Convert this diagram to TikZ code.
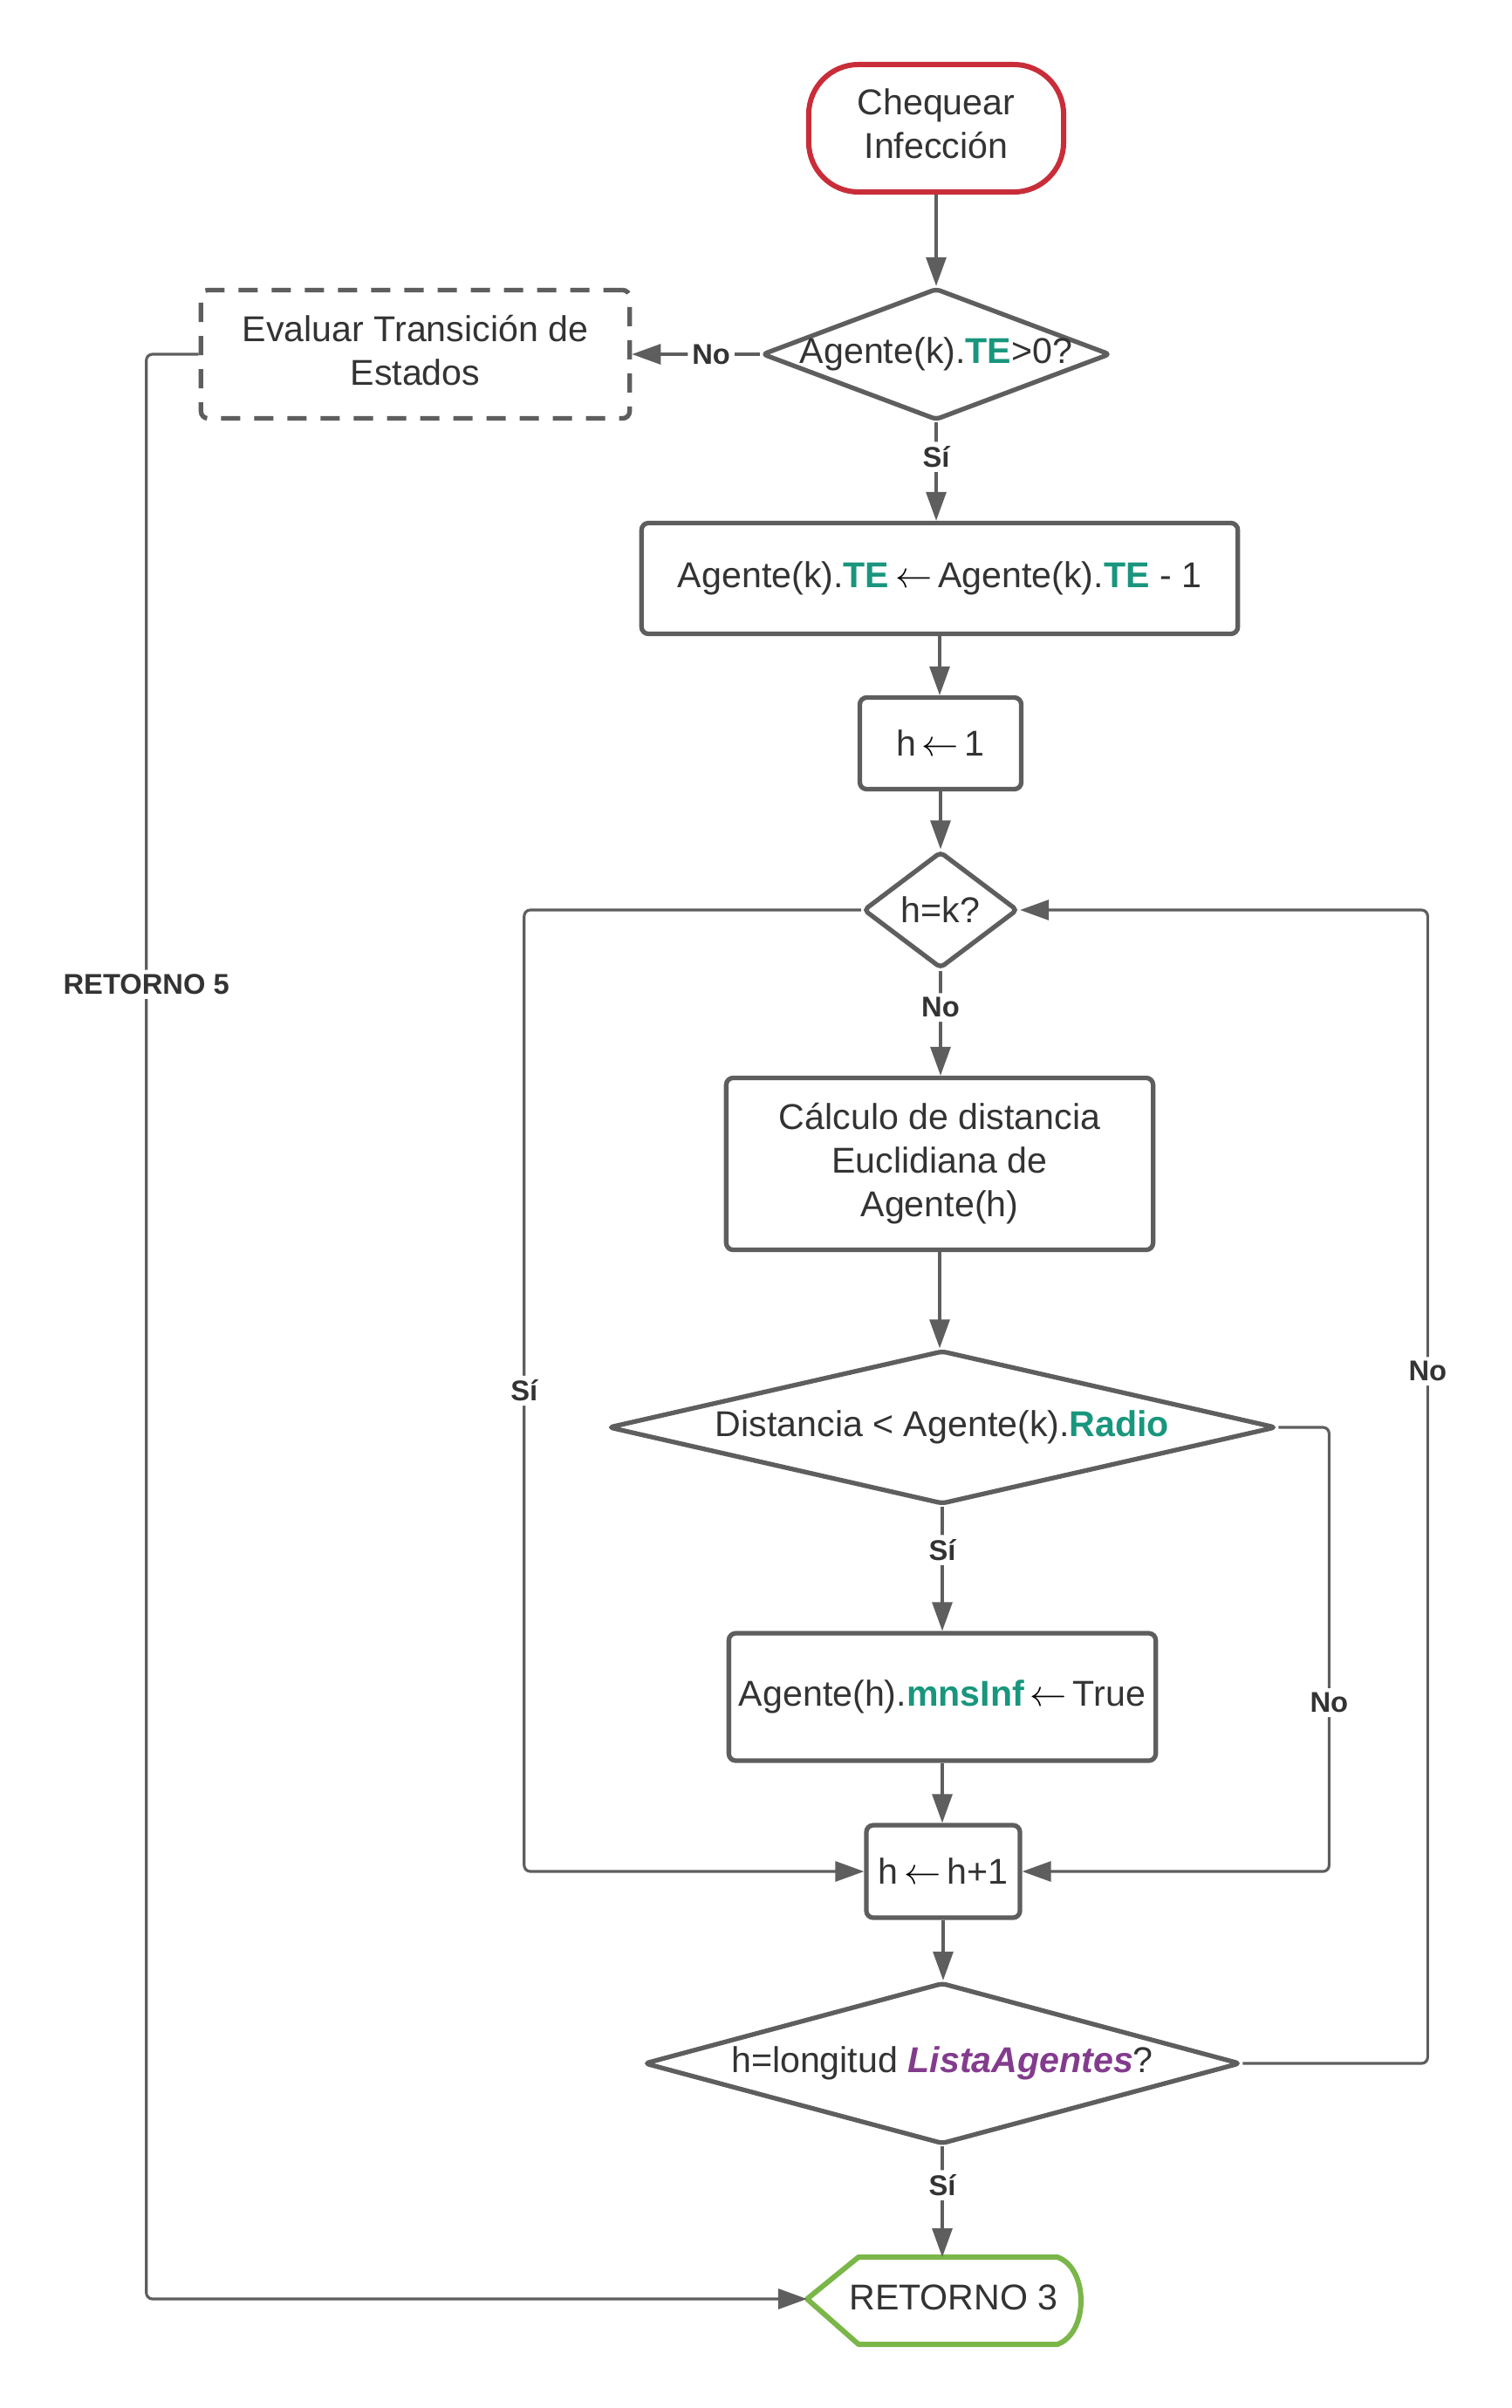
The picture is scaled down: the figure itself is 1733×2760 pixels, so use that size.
\documentclass[tikz,border=0pt]{standalone}
\usepackage{fontspec}
\setmainfont{Liberation Sans}
\usetikzlibrary{shapes.geometric,arrows.meta}
\definecolor{linegray}{HTML}{5E5E5E}
\definecolor{textgray}{HTML}{333333}
\definecolor{startred}{HTML}{C92D39}
\definecolor{endgreen}{HTML}{7AB648}
\definecolor{attrgreen}{HTML}{19967D}
\definecolor{listpurple}{HTML}{833C8D}
\newcommand{\attr}[1]{\textcolor{attrgreen}{\textbf{#1}}}
\newcommand{\asig}{\,\textcolor{black}{$\leftarrow$}\,}

\begin{document}
\begin{tikzpicture}[x=0.01cm,y=-0.01cm]
		\tikzstyle{every node}=[font=\fontsize{11.7pt}{14.2pt}\selectfont, text=textgray]
		\tikzstyle{proceso}=[draw=linegray, line width=1.5pt, rounded corners=0.08cm, align=center, inner sep=0pt]
		\tikzstyle{decision}=[draw=linegray, line width=1.5pt, diamond, rounded corners=0.05cm, inner sep=0pt]
		\tikzstyle{flecha}=[draw=linegray, line width=0.9pt, -{Triangle[length=0.33cm,width=0.23cm]}, rounded corners=0.07cm]
		\tikzstyle{etiqueta}=[font=\fontsize{9.3pt}{11pt}\selectfont\bfseries, fill=white, inner sep=0.05cm]
		
		\useasboundingbox (0,0) rectangle (1733,2760);
		
		\node[draw=startred, line width=1.7pt, rounded corners=0.57cm, align=center, text depth=0.1cm, minimum width=2.92cm, minimum height=1.46cm] (inicio) at (1073,147) {Chequear\\Infección};
		\node[decision, minimum width=3.99cm, minimum height=1.51cm] (d1) at (1073,406) {\makebox[0pt]{Agente(k).\attr{TE}>0?}};
		\node[proceso, dash pattern=on 0.22cm off 0.16cm, text depth=0.1cm, minimum width=4.91cm, minimum height=1.47cm] (evaluar) at (476,406) {Evaluar Transición de\\Estados};
		\node[proceso, minimum width=6.83cm, minimum height=1.27cm] (restar) at (1077,663) {Agente(k).\attr{TE}\asig Agente(k).\attr{TE} - 1};
		\node[proceso, minimum width=1.85cm, minimum height=1.05cm] (hinicio) at (1078,852) {h\asig 1};
		\node[decision, minimum width=1.77cm, minimum height=1.34cm] (d2) at (1078,1043) {\makebox[0pt]{h=k?}};
		\node[proceso, minimum width=4.89cm, minimum height=1.97cm] (calculo) at (1077,1334) {Cálculo de distancia\\Euclidiana de\\Agente(h)};
		\node[decision, minimum width=7.65cm, minimum height=1.76cm] (d3) at (1080,1636) {\makebox[0pt]{Distancia < Agente(k).\attr{Radio}}};
		\node[proceso, minimum width=4.89cm, minimum height=1.46cm] (marcar) at (1080,1945) {Agente(h).\attr{mnsInf}\asig True};
		\node[proceso, minimum width=1.76cm, minimum height=1.06cm] (hmas) at (1081,2145) {h\asig h+1};
		\node[decision, minimum width=6.83cm, minimum height=1.85cm] (d4) at (1080,2365) {\makebox[0pt]{h=longitud \textcolor{listpurple}{\textbf{\textit{ListaAgentes}}}?}};
		
		\draw[endgreen, line width=1.7pt, line join=round] (925,2635) -- (984,2587) -- (1212,2587) .. controls (1248,2600) and (1248,2674) .. (1212,2687) -- (984,2687) -- cycle;
		\node (fin) at (1093,2633) {RETORNO 3};
		\coordinate (finizq) at (925,2635);
		\coordinate (finarriba) at (1080,2587);
		
		\draw[flecha] (inicio.south) -- (inicio.south |- d1.north);
		\draw[flecha] (d1.west) -- node[etiqueta, pos=0.38]{No} (evaluar.east);
		\draw[flecha] (d1.south) -- node[etiqueta, pos=0.35]{Sí} (d1.south |- restar.north);
		\draw[flecha] (restar.south) -- (restar.south |- hinicio.north);
		\draw[flecha] (hinicio.south) -- (hinicio.south |- d2.north);
		\draw[flecha] (d2.south) -- node[etiqueta, pos=0.35]{No} (d2.south |- calculo.north);
		\draw[flecha] (calculo.south) -- (calculo.south |- d3.north);
		\draw[flecha] (d3.south) -- node[etiqueta, pos=0.35]{Sí} (d3.south |- marcar.north);
		\draw[flecha] (marcar.south) -- (marcar.south |- hmas.north);
		\draw[flecha] (hmas.south) -- (hmas.south |- d4.north);
		\draw[flecha] (d4.south) -- node[etiqueta, pos=0.35]{Sí} (finarriba);
		
		\draw[flecha] (d2.west) -- ++(-386,0) |- node[etiqueta, pos=0.25]{Sí} (hmas.west);
		\draw[flecha] (d3.east) -- ++(58,0) |- node[etiqueta, pos=0.31]{No} (hmas.east);
		\draw[flecha] (d4.east) -- ++(212,0) |- node[etiqueta, pos=0.3]{No} (d2.east);
		\draw[flecha] (evaluar.west) -- ++(-60,0) |- node[etiqueta, pos=0.162]{RETORNO 5} (finizq);
		
	\end{tikzpicture}
\end{document}
